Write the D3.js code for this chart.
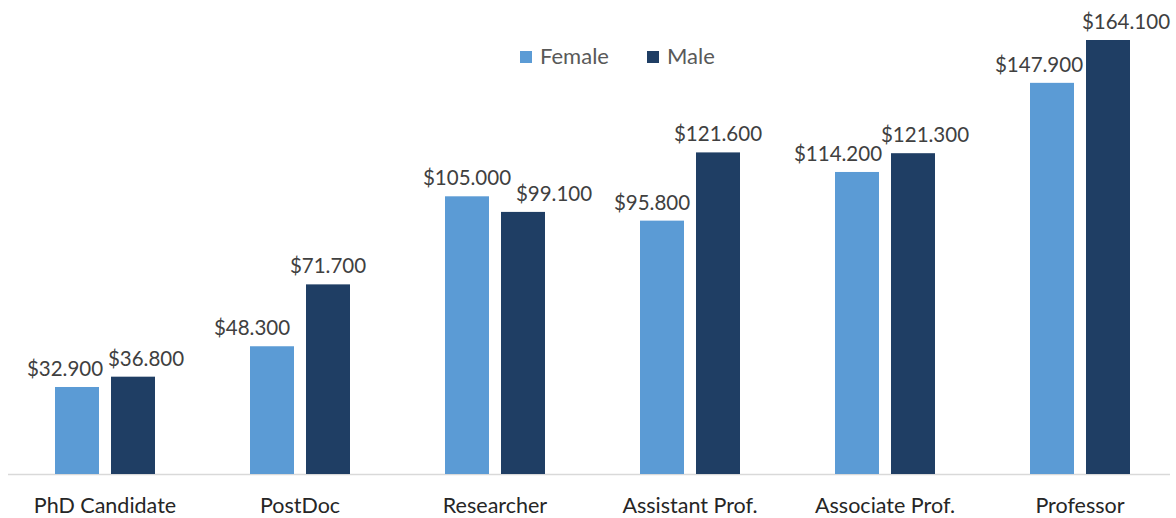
<!DOCTYPE html>
<html>
<head>
<meta charset="utf-8">
<script src="https://cdn.jsdelivr.net/npm/d3@7"></script>
<style>
  html, body { margin: 0; padding: 0; background: #ffffff; }
  svg { display: block; font-family: "Lato", "Noto Sans", sans-serif; }
</style>
</head>
<body>
<svg id="chart" width="1176" height="518"></svg>
<script>
// ---- data ----
const categories = ["PhD Candidate", "PostDoc", "Researcher", "Assistant Prof.", "Associate Prof.", "Professor"];
const seriesNames = ["Female", "Male"];
const female = [32900, 48300, 105000, 95800, 114200, 147900];
const male   = [36800, 71700, 99100, 121600, 121300, 164100];
const valueLabelsFemale = ["$32.900", "$48.300", "$105.000", "$95.800", "$114.200", "$147.900"];
const valueLabelsMale   = ["$36.800", "$71.700", "$99.100", "$121.600", "$121.300", "$164.100"];

// ---- layout / style ----
const colors = { Female: "#5B9BD5", Male: "#1F3E64" };
const baseY = 474;
const labelNudge = { Female: [-12, -20, 0, -10, -19, -13], Male: [13, 0, 31, 0, 12, 18] };

const svg = d3.select("#chart");

const x0 = d3.scaleBand().domain(categories).range([7.5, 1177.5]).paddingInner(0).paddingOuter(0);
const x1 = d3.scaleBand().domain(seriesNames).range([-50, 50]).paddingInner(0.2143).paddingOuter(0);
const y = d3.scaleLinear().domain([0, 170000]).range([baseY, baseY - 434 * 170000 / 164100]);

const rows = categories.map((c, i) => ({
  cat: c, i,
  vals: [
    { key: "Female", v: female[i], label: valueLabelsFemale[i] },
    { key: "Male", v: male[i], label: valueLabelsMale[i] }
  ]
}));

// axis line
svg.append("line")
  .attr("x1", 8).attr("x2", 1170)
  .attr("y1", baseY + 0.5).attr("y2", baseY + 0.5)
  .attr("stroke", "#d9d9d9").attr("stroke-width", 1.5);

const g = svg.selectAll("g.grp").data(rows).join("g")
  .attr("class", "grp")
  .attr("transform", d => `translate(${x0(d.cat) + x0.bandwidth() / 2},0)`);

g.selectAll("rect").data(d => d.vals).join("rect")
  .attr("x", d => x1(d.key))
  .attr("width", x1.bandwidth())
  .attr("y", d => y(d.v))
  .attr("height", d => baseY - y(d.v))
  .attr("fill", d => colors[d.key]);

g.each(function(d) {
  d3.select(this).selectAll("text.val").data(d.vals).join("text")
    .attr("class", "val")
    .attr("x", v => x1(v.key) + x1.bandwidth() / 2 + labelNudge[v.key][d.i])
    .attr("y", v => y(v.v) - 11)
    .attr("text-anchor", "middle")
    .attr("font-size", 20.5)
    .attr("fill", "#404040")
    .text(v => v.label);
});

// category axis
const xAxis = d3.axisBottom(x0).tickSize(0).tickPadding(0);
const ax = svg.append("g").attr("transform", `translate(0,${baseY})`).call(xAxis);
ax.select(".domain").remove();
ax.selectAll("text")
  .attr("dy", null)
  .attr("y", 39)
  .attr("font-size", 21.5)
  .attr("font-family", "Lato, 'Noto Sans', sans-serif")
  .attr("fill", "#262626");

// legend
const legendX = [520, 647];
const leg = svg.selectAll("g.leg").data(seriesNames).join("g")
  .attr("class", "leg")
  .attr("transform", (d, i) => `translate(${legendX[i]},51)`);
leg.append("rect").attr("width", 12).attr("height", 12).attr("fill", d => colors[d]);
leg.append("text").attr("x", 20).attr("y", 12.5)
  .attr("font-size", 22).attr("fill", "#595959").text(d => d);
</script>
</body>
</html>
